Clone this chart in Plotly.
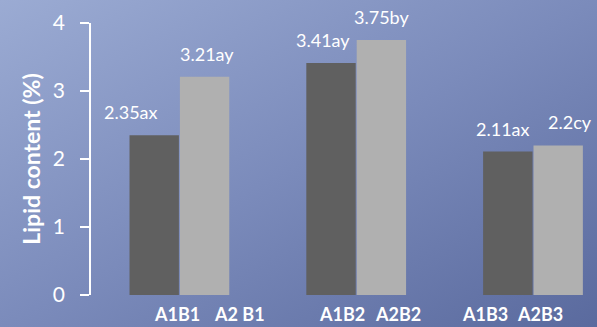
import base64
import plotly.graph_objects as go

# Treatment groups and lipid content (%) for the two A levels
groups = ["B1", "B2", "B3"]
a1_values = [2.35, 3.41, 2.11]
a2_values = [3.21, 3.75, 2.20]
a1_letters = ["ax", "ay", "ax"]
a2_letters = ["ay", "by", "cy"]
a1_names = ["A1B1", "A1B2", "A1B3"]
a2_names = ["A2 B1", "A2B2", "A2B3"]
y_ticks = [0, 1, 2, 3, 4]

W, H = 597, 327
M = dict(l=91, r=0, t=23, b=32)
BARGAP = 0.43
FONT = "Lato"
WHITE = "#ffffff"

# label nudges (px) for value labels and category labels
a1_val_dx = [-23, -8, -5]
a2_val_dx = [2, 0, 12]
a1_name_dx = [23, 11, -23]
a2_name_dx = [35, 17, -18]

x_pos = list(range(len(groups)))
half = (1 - BARGAP) / 4

fig = go.Figure()
fig.add_bar(x=x_pos, y=a1_values, name="A1", marker=dict(color="#606060", line=dict(width=0)))
fig.add_bar(x=x_pos, y=a2_values, name="A2", marker=dict(color="#b0b0b0", line=dict(width=0)))

annotations = []
for i, x in enumerate(x_pos):
    for xc, v, lt, dx, nm, ndx in (
        (x - half, a1_values[i], a1_letters[i], a1_val_dx[i], a1_names[i], a1_name_dx[i]),
        (x + half, a2_values[i], a2_letters[i], a2_val_dx[i], a2_names[i], a2_name_dx[i]),
    ):
        annotations.append(dict(
            x=xc, y=v, xref="x", yref="y", text=f"{v:g}{lt}", showarrow=False,
            xanchor="center", yanchor="middle", xshift=dx, yshift=23,
            font=dict(family=FONT, size=18, color=WHITE)))
        annotations.append(dict(
            x=xc, y=0, xref="x", yref="paper", text=f"<b>{nm}</b>", showarrow=False,
            xanchor="center", yanchor="middle", xshift=ndx, yshift=-19,
            font=dict(family=FONT, size=18, color=WHITE)))

pw = W - M["l"] - M["r"]
ph = H - M["t"] - M["b"]
svg = (
    f'<svg xmlns="http://www.w3.org/2000/svg" width="{W}" height="{H}">'
    '<defs><linearGradient id="g" x1="0" y1="0" x2="1" y2="1">'
    '<stop offset="0" stop-color="#9babd3"/>'
    '<stop offset="0.5" stop-color="#7b8bbb"/>'
    '<stop offset="1" stop-color="#5a6a9e"/>'
    '</linearGradient></defs>'
    f'<rect width="{W}" height="{H}" fill="url(#g)"/></svg>'
)
bg_src = "data:image/svg+xml;base64," + base64.b64encode(svg.encode()).decode()

fig.update_layout(
    width=W, height=H, margin=M,
    barmode="group", bargap=BARGAP, bargroupgap=0.02,
    showlegend=False,
    paper_bgcolor="rgba(0,0,0,0)", plot_bgcolor="rgba(0,0,0,0)",
    font=dict(family=FONT, color=WHITE),
    annotations=annotations,
    images=[dict(
        source=bg_src, xref="paper", yref="paper",
        x=-M["l"] / pw, y=1 + M["t"] / ph,
        sizex=W / pw, sizey=H / ph,
        xanchor="left", yanchor="top", sizing="stretch", layer="below")],
    xaxis=dict(range=[-0.5, -0.5 + pw / 176.8], showline=False, showgrid=False,
               zeroline=False, showticklabels=False, ticks=""),
    yaxis=dict(range=[0, 4], tickvals=y_ticks, showline=True, linecolor=WHITE,
               linewidth=1.5, ticks="outside", ticklen=9, tickwidth=1.5,
               tickcolor=WHITE, showgrid=False, zeroline=False,
               ticklabelstandoff=11,
               tickfont=dict(family=FONT, size=21, color=WHITE),
               title=dict(text="<b>Lipid content (%)</b>", standoff=6,
                          font=dict(family=FONT, size=23, color=WHITE))),
)

fig.write_html("out.html")
